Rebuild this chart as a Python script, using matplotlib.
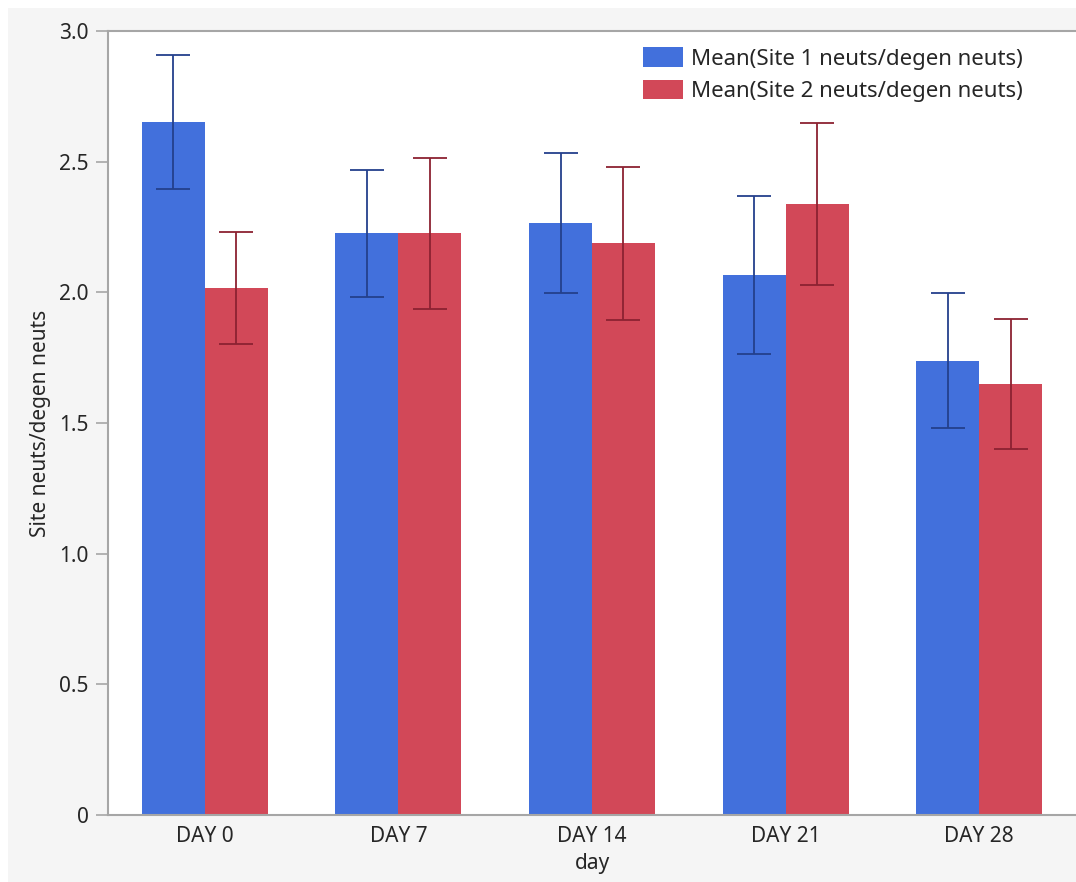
import numpy as np
import matplotlib
matplotlib.use('Agg')
import matplotlib.pyplot as plt
from matplotlib.patches import Rectangle

# === data ===
days = ['DAY 0', 'DAY 7', 'DAY 14', 'DAY 21', 'DAY 28']
site1_mean = [2.653, 2.226, 2.264, 2.067, 1.739]
site1_err = [0.256, 0.244, 0.268, 0.303, 0.260]
site2_mean = [2.016, 2.226, 2.187, 2.337, 1.649]
site2_err = [0.215, 0.288, 0.293, 0.310, 0.249]
labels = ['Mean(Site 1 neuts/degen neuts)', 'Mean(Site 2 neuts/degen neuts)']

plt.rcParams['font.family'] = ['Noto Sans', 'DejaVu Sans']
plt.rcParams['font.size'] = 15
text_color = '#262626'
spine_color = '#a6a6a6'

fig = plt.figure(figsize=(10.76, 8.82), dpi=100, facecolor='white')
# light grey panel behind the chart
fig.patches.append(Rectangle((8 / 1076, 0), 1, 1 - 8 / 882, transform=fig.transFigure,
                             facecolor='#f5f5f5', edgecolor='none', zorder=-10))

ax = fig.add_axes([108 / 1076, 67 / 882, 968 / 1076, 784 / 882])
ax.set_facecolor('white')

x = np.arange(len(days))
w = 0.325
ax.bar(x - w / 2, site1_mean, w, color='#4270dc', label=labels[0], zorder=2)
ax.bar(x + w / 2, site2_mean, w, color='#d24858', label=labels[1], zorder=2)
ax.errorbar(x - w / 2, site1_mean, yerr=site1_err, fmt='none', ecolor='#24408c',
            elinewidth=1.3, capsize=12, capthick=1.3, zorder=3)
ax.errorbar(x + w / 2, site2_mean, yerr=site2_err, fmt='none', ecolor='#8c2232',
            elinewidth=1.3, capsize=12, capthick=1.3, zorder=3)

ax.set_xlim(-0.5, 4.5)
ax.set_ylim(0, 3.0)
ax.set_yticks([0, 0.5, 1.0, 1.5, 2.0, 2.5, 3.0])
ax.set_yticklabels(['0', '0.5', '1.0', '1.5', '2.0', '2.5', '3.0'])
ax.set_xticks(x)
ax.set_xticklabels(days)

ax.tick_params(axis='y', length=9, width=1.2, color=spine_color, pad=5, labelcolor=text_color)
ax.tick_params(axis='x', length=0, pad=8, labelcolor=text_color)

for side in ['left', 'bottom', 'top']:
    ax.spines[side].set_color(spine_color)
    ax.spines[side].set_linewidth(1.5)
ax.spines['right'].set_visible(False)

ax.set_xlabel('day', color=text_color, labelpad=4)
ax.set_ylabel('Site neuts/degen neuts', color=text_color, labelpad=6)

ax.legend(loc='upper left', bbox_to_anchor=(0.553, 0.979), frameon=False, fontsize=16,
          borderpad=0, borderaxespad=0, handlelength=1.8, handleheight=0.95,
          handletextpad=0.35, labelspacing=0.45, labelcolor=text_color)

fig.savefig('out.png', dpi=100, facecolor=fig.get_facecolor())
